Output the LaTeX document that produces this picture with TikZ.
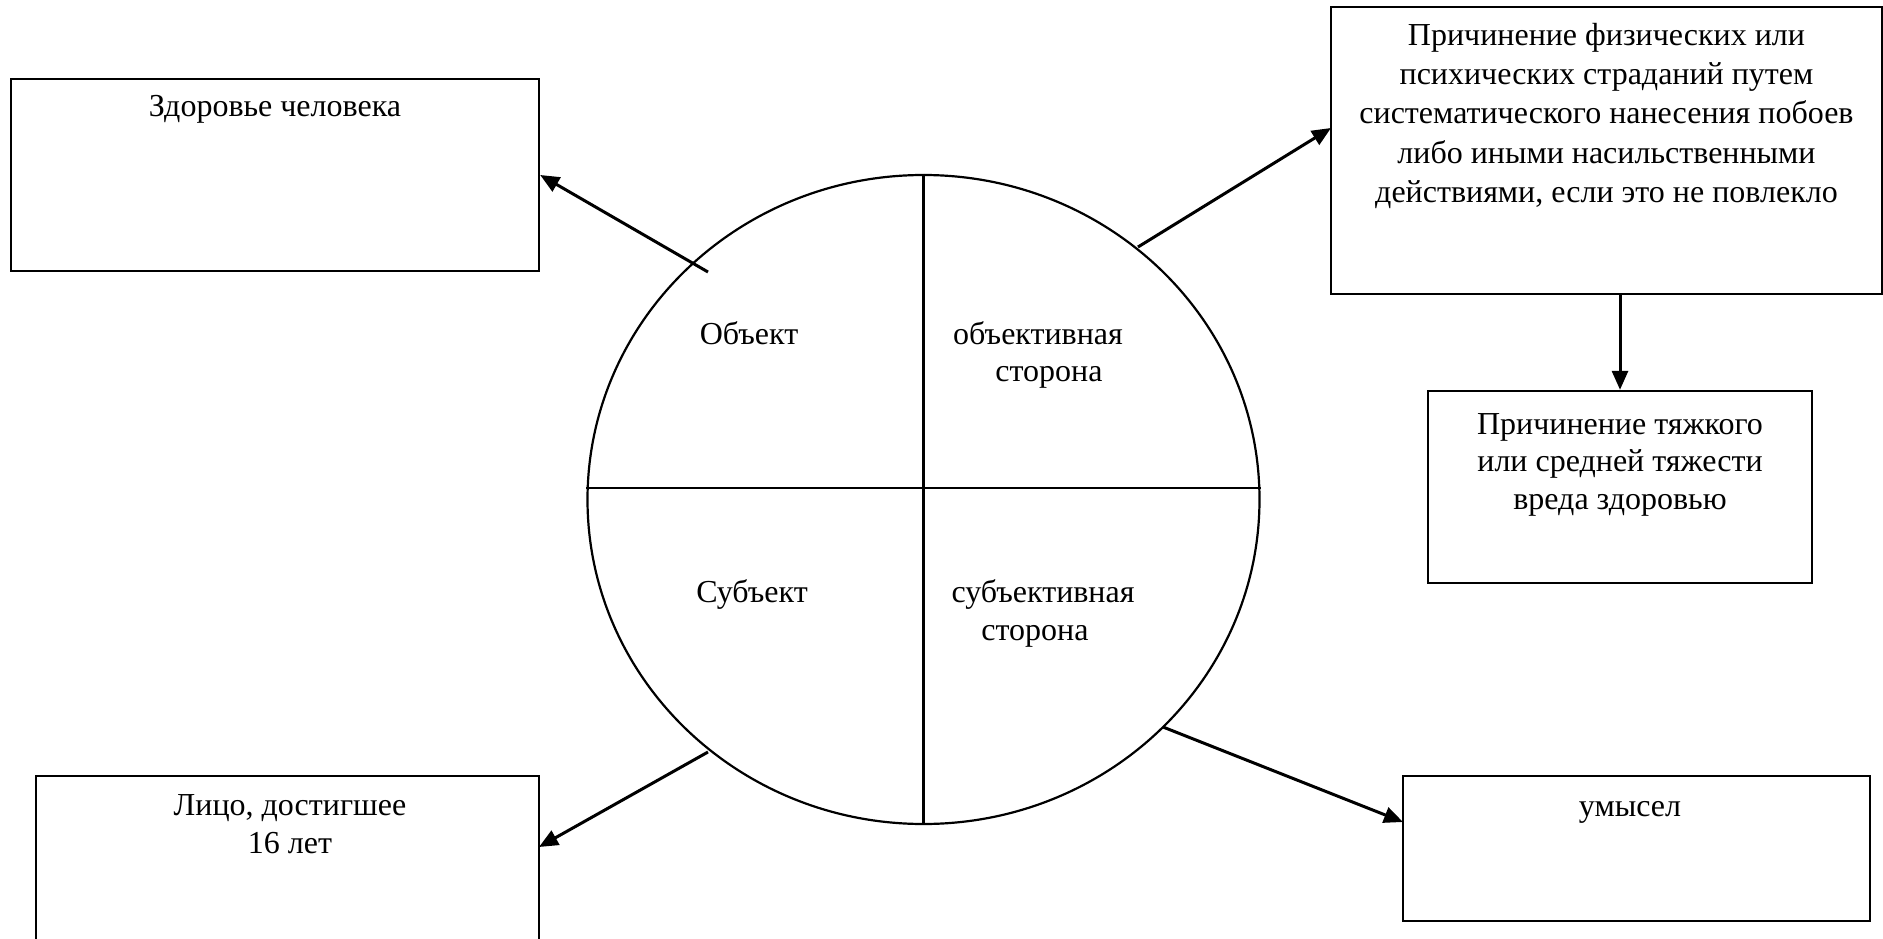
\documentclass[tikz,border=0pt]{standalone}
\usepackage{fontspec}
\setmainfont{Liberation Serif}
\usetikzlibrary{arrows.meta,shapes.geometric}
\begin{document}
\begin{tikzpicture}[x=1pt,y=-1pt,
  box/.style={draw=black,line width=2.4pt,rectangle,inner sep=0pt,fill=white},
  lbl/.style={align=center,anchor=base,inner sep=0pt,font=\fontsize{32pt}{38.5pt}\selectfont},
  arr/.style={line width=3pt,-{Triangle[length=19pt,width=16pt]}},
  part/.style={line width=2.2pt}]
\clip (0,0) rectangle (1883,939);
\fill[white] (0,0) rectangle (1883,939);
% boxes
\node[box,minimum width=528pt,minimum height=192pt] (b1) at (275,175) {};
\node[box,minimum width=551pt,minimum height=287pt] (b3) at (1606.5,150.5) {};
\node[box,minimum width=384pt,minimum height=192pt] (b4) at (1620,487) {};
\node[box,minimum width=503pt,minimum height=224pt] (b5) at (287.5,888) {};
\node[box,minimum width=467pt,minimum height=145pt] (b6) at (1636.5,848.5) {};
% circle
\node[ellipse,draw=black,line width=2.2pt,minimum width=672pt,minimum height=649pt,inner sep=0pt] (c) at (923.5,499.5) {};
\coordinate (h) at (0,488);
\draw[part] (c.north) -- (c.south);
\draw[part] (c.west |- h) -- (c.east |- h);
% texts
\node[lbl] (t1) at (275,117) {Здоровье человека};
\node[lbl,font=\fontsize{32pt}{39.5pt}\selectfont] (t3) at (1606.5,203) {Причинение физических или\\психических страданий путем\\систематического нанесения побоев\\либо иными насильственными\\действиями, если это не повлекло};
\node[lbl,font=\fontsize{32pt}{37.5pt}\selectfont] (t4) at (1620,509) {Причинение тяжкого\\или средней тяжести\\вреда здоровью};
\node[lbl,font=\fontsize{32pt}{38pt}\selectfont] (t5) at (290,853) {Лицо, достигшее\\16 лет};
\node[lbl] (t6) at (1630,816) {умысел};
\node[lbl] (o1) at (749,344) {Объект};
\node[lbl,font=\fontsize{32pt}{37pt}\selectfont] (o2) at (1038,381) {объективная\\\hspace*{22pt}сторона};
\node[lbl] (o3) at (752,602) {Субъект};
\node[lbl,font=\fontsize{32pt}{38pt}\selectfont] (o4) at (1043,640) {субъективная\\сторона\hspace*{16pt}};
% connector ends
\coordinate (s1) at (708,272);
\coordinate (s3) at (1138,247);
\coordinate (e3) at (1331,128);
\coordinate (s5) at (708,752);
\coordinate (e5) at (539,847);
\coordinate (s6) at (1163,727);
\coordinate (e6) at (1403,822);
\draw[arr] (s1) -- (b1.east);
\draw[arr] (s3) -- (e3);
\draw[arr] (b3.south -| b4.north) -- (b4.north);
\draw[arr] (s5) -- (e5);
\draw[arr] (s6) -- (e6);
\end{tikzpicture}
\end{document}
